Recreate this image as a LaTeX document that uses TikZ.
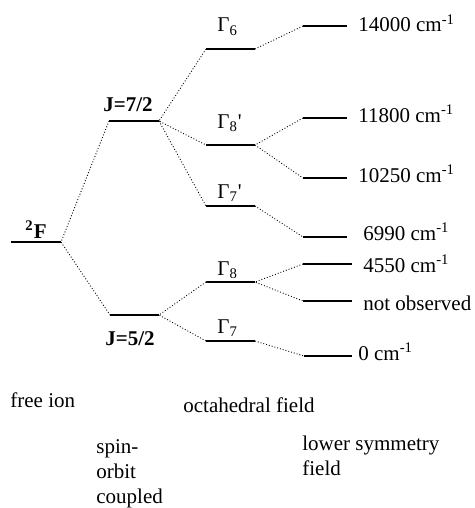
\documentclass[tikz,border=0pt]{standalone}
\usepackage{fontspec}
\setmainfont{Liberation Serif}
\begin{document}
\begin{tikzpicture}[x=0.5pt,y=-0.5pt,lev/.style={line width=0.7pt},
  con/.style={densely dotted,line width=0.45pt},
  lab/.style={anchor=base west,inner sep=0pt,align=left,font=\fontsize{10.5}{12.5}\selectfont}]
\useasboundingbox (0,0) rectangle (475,508);
% free ion and spin-orbit levels
\coordinate (f0) at (11,242);  \coordinate (f1) at (61,242);
\coordinate (j70) at (109,121); \coordinate (j71) at (159,121);
\coordinate (j50) at (110,315); \coordinate (j51) at (159,315);
% octahedral field levels
\coordinate (g60) at (206,49);  \coordinate (g61) at (255,49);
\coordinate (h80) at (206,145); \coordinate (h81) at (255,145);
\coordinate (h70) at (206,206); \coordinate (h71) at (255,206);
\coordinate (g80) at (206,282); \coordinate (g81) at (255,282);
\coordinate (g70) at (206,341); \coordinate (g71) at (255,341);
% lower symmetry levels
\coordinate (e1) at (303,26);  \coordinate (e1r) at (347,26);
\coordinate (e2) at (303,118); \coordinate (e2r) at (347,118);
\coordinate (e3) at (303,178); \coordinate (e3r) at (347,178);
\coordinate (e4) at (303,237); \coordinate (e4r) at (347,237);
\coordinate (e5) at (303,264); \coordinate (e5r) at (352,264);
\coordinate (e6) at (303,301); \coordinate (e6r) at (352,301);
\coordinate (e7) at (304,356); \coordinate (e7r) at (352,356);

\draw[lev] (f0)--(f1) (j70)--(j71) (j50)--(j51);
\draw[lev] (g60)--(g61) (h80)--(h81) (h70)--(h71) (g80)--(g81) (g70)--(g71);
\draw[lev] (e1)--(e1r) (e2)--(e2r) (e3)--(e3r) (e4)--(e4r) (e5)--(e5r) (e6)--(e6r) (e7)--(e7r);

\draw[con] (j70)--(f1)--(j50);
\draw[con] (g60)--(j71)--(h80) (j71)--(h70);
\draw[con] (g80)--(j51)--(g70);
\draw[con] (g61)--(e1) (e2)--(h81)--(e3) (h71)--(e4);
\draw[con] (e5)--(g81)--(e6) (g71)--(e7);

\node[lab] (lF) at (25,238) {\textbf{\textsuperscript{2}F}};
\node[lab] (lJ7) at (103,112) {\textbf{J=7/2}};
\node[lab] (lJ5) at (105,345) {\textbf{J=5/2}};
\node[lab] (lg6) at (217,32) {Γ\textsubscript{6}};
\node[lab] (lh8) at (217,128) {Γ\textsubscript{8}\textquotesingle};
\node[lab] (lh7) at (217,198) {Γ\textsubscript{7}\textquotesingle};
\node[lab] (lg8) at (217,275) {Γ\textsubscript{8}};
\node[lab] (lg7) at (217,333) {Γ\textsubscript{7}};

\node[lab] (le1) at (358,32) {14000 cm\textsuperscript{-1}};
\node[lab] (le2) at (358,122) {11800 cm\textsuperscript{-1}};
\node[lab] (le3) at (358,182) {10250 cm\textsuperscript{-1}};
\node[lab] (le4) at (363,240) {6990 cm\textsuperscript{-1}};
\node[lab] (le5) at (363,272) {4550 cm\textsuperscript{-1}};
\node[lab] (le6) at (363,310) {not observed};
\node[lab] (le7) at (358,360) {0 cm\textsuperscript{-1}};

\node[lab] (free) at (10,407) {free ion};
\node[lab] (spin) at (96,503) {spin-\\orbit\\coupled};
\node[lab] (octa) at (183,412) {octahedral field};
\node[lab] (lowr) at (302,475) {lower symmetry\\field};
\end{tikzpicture}
\end{document}
